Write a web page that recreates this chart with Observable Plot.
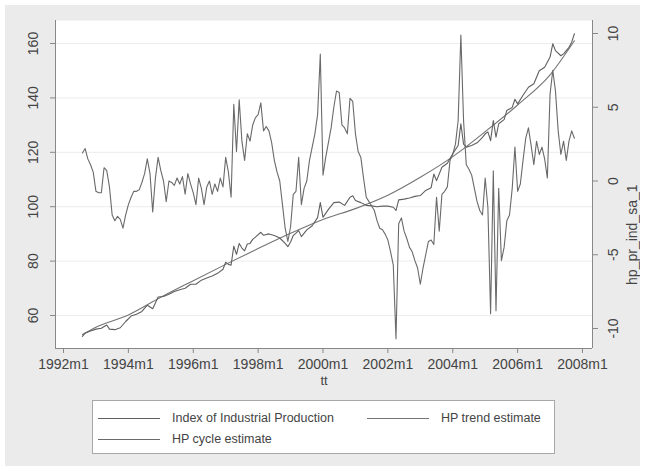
<!DOCTYPE html>
<html>
<head>
<meta charset="utf-8">
<script src="https://cdn.jsdelivr.net/npm/d3@7"></script>
<script src="https://cdn.jsdelivr.net/npm/@observablehq/plot@0.6"></script>
<style>
  body { margin: 0; background: #fff; font-family: "Liberation Sans", Arial, sans-serif; }
  #graph { position: absolute; left: 5px; top: 5px; width: 635px; height: 461px; background: #ebebeb; }
  #chart { position: absolute; left: 0; top: 0; }
  #legend { position: absolute; left: 87px; top: 395px; width: 461px; height: 52px;
            background: #fff; border: 1px solid #a8a8a8; font-size: 12.5px; color: #444; }
  .key { position: absolute; width: 62px; height: 0; border-top: 1px solid; }
  .lab { position: absolute; line-height: 14px; white-space: nowrap; }
</style>
</head>
<body>
<div id="graph">
  <div id="chart"></div>
  <div id="legend"></div>
</div>
<script>
// HP cycle (axe de droite), mensuel à partir de 1992m8
const cycleStart = "1992m8";
const cycleValues = [
  1.9, 2.2, 1.5, 1.1, 0.6,                                          // 1992
  -0.7, -0.8, -0.8, 0.9, 0.7, -0.4, -2.3, -2.7, -2.4, -2.6, -3.2, -2.3, // 1993
  -1.6, -1.1, -0.7, -0.7, -0.6, -0.1, 0.5, 1.5, 0.5, -2.1, 0.2, 1.6,  // 1994
  0.7, 0.0, -1.4, 0.0, -0.1, -0.3, 0.2, -0.2, 0.3, -0.9, 0.5, -0.2,   // 1995
  -0.8, -1.6, 0.2, -0.5, -1.6, -0.4, 0.0, -0.9, -0.2, -0.7, 0.2, -0.4, // 1996
  1.6, 0.6, -1.1, 5.2, 2.0, 5.5, 2.7, 1.4, 3.2, 2.7, 3.8, 4.3,        // 1997
  4.5, 5.3, 3.4, 3.7, 3.4, 2.6, 1.4, 0.6, 0.0, -1.6, -3.2, -4.1,      // 1998
  -3.1, -0.9, -0.7, 1.6, -1.6, -0.5, 0.0, 1.4, 2.3, 3.2, 4.5, 8.6,    // 1999
  0.4, 1.6, 2.6, 3.6, 5.0, 6.1, 6.0, 3.8, 3.6, 3.2, 5.6, 5.4,         // 2000
  3.2, 2.0, 1.6, 0.2, -1.1, -1.4, -1.7, -2.0, -2.7, -3.2, -3.3, -3.6, // 2001
  -4.0, -4.8, -5.7, -10.7, -2.9, -2.5, -3.4, -3.9, -4.5, -4.8, -5.4, -5.9, // 2002
  -7.0, -5.9, -5.0, -4.1, -4.0, -4.3, -1.1, -3.4, -0.9, -0.7, -0.4, 1.4,   // 2003
  1.8, 2.5, 4.1, 9.9, 4.1, 1.1, 0.8, 0.4, -0.5, -1.4, -2.0, -2.3,     // 2004
  0.2, -1.8, -9.0, 0.7, -8.8, -0.5, -5.4, -4.5, -2.7, -2.3, -0.5, 2.3, // 2005
  -0.7, -0.2, 1.4, 2.9, 3.6, 2.4, 1.1, 2.7, 1.8, 2.3, 1.5, 0.2,       // 2006
  5.9, 7.5, 6.1, 3.4, 1.8, 2.7, 1.4, 2.7, 3.4, 2.9                    // 2007
];

// Index of Industrial Production (axe de gauche)
const indexMonths = [
  "1992m8", "1992m9", "1992m11", "1993m1", "1993m3", "1993m5", "1993m6", "1993m8", "1993m10", "1993m12",
  "1994m2", "1994m4", "1994m6", "1994m8", "1994m10", "1994m12", "1995m2", "1995m4", "1995m6", "1995m8",
  "1995m10", "1995m12", "1996m2", "1996m4", "1996m6", "1996m8", "1996m10", "1996m12", "1997m1", "1997m2",
  "1997m3", "1997m4", "1997m5", "1997m6", "1997m7", "1997m8", "1997m9", "1997m10", "1997m11", "1997m12",
  "1998m2", "1998m3", "1998m5", "1998m7", "1998m9", "1998m11", "1998m12", "1999m1", "1999m2", "1999m4",
  "1999m5", "1999m7", "1999m9", "1999m11", "1999m12", "2000m1", "2000m3", "2000m5", "2000m7", "2000m9",
  "2000m11", "2000m12", "2001m1", "2001m3", "2001m5", "2001m7", "2001m9", "2001m11", "2002m1", "2002m3",
  "2002m4", "2002m5", "2002m7", "2002m9", "2002m11", "2003m1", "2003m3", "2003m5", "2003m6", "2003m7",
  "2003m9", "2003m11", "2004m1", "2004m3", "2004m4", "2004m5", "2004m6", "2004m8", "2004m10", "2004m12",
  "2005m1", "2005m2", "2005m3", "2005m4", "2005m5", "2005m6", "2005m8", "2005m9", "2005m11", "2005m12",
  "2006m1", "2006m3", "2006m5", "2006m7", "2006m9", "2006m11", "2007m1", "2007m2", "2007m3", "2007m5",
  "2007m6", "2007m8", "2007m9", "2007m10"
];
const indexValues = [
  52.3, 53.5, 54.3, 55.0, 55.3, 56.5, 55.0, 54.8, 55.5, 57.8,
  59.8, 60.5, 61.5, 63.8, 62.5, 66.8, 67.0, 67.8, 68.8, 69.5,
  70.0, 71.5, 71.5, 73.0, 73.8, 74.5, 75.5, 77.0, 79.6, 78.8,
  78.5, 85.5, 82.5, 86.5, 84.8, 83.8, 86.3, 86.5, 88.0, 88.8,
  90.6, 89.5, 90.0, 89.4, 88.5, 86.5, 85.3, 87.0, 89.4, 91.2,
  89.0, 91.5, 93.0, 96.0, 101.5, 96.1, 99.0, 101.5, 101.7, 100.5,
  103.5, 104.0, 102.3, 101.5, 100.5, 100.3, 100.0, 100.2, 100.2, 99.8,
  98.6, 102.5, 102.8, 103.2, 103.8, 104.1, 106.0, 107.0, 112.0, 109.6,
  114.5, 116.0, 119.5, 122.5, 130.5, 123.0, 121.9, 122.5, 123.5, 125.5,
  126.8, 127.5, 124.3, 131.7, 125.6, 130.5, 132.0, 135.4, 136.5, 139.5,
  137.8, 141.0, 143.9, 145.2, 150.0, 151.3, 155.0, 159.9, 157.4, 155.5,
  156.2, 158.6, 160.5, 163.6
];

// HP trend (axe de gauche)
const trendMonths = ["1992m8", "1993m1", "1994m1", "1995m1", "1996m1", "1997m1", "1998m1", "1999m1",
  "2000m1", "2001m1", "2002m1", "2003m1", "2004m1", "2005m1", "2006m1", "2007m1", "2007m10"];
const trendValues = [53.0, 55.7, 60.2, 66.7, 72.8, 78.8, 84.6, 90.2,
  95.3, 99.3, 104.2, 110.8, 118.4, 127.6, 137.4, 148.5, 161.0];

const leftTicks = [60, 80, 100, 120, 140, 160];
const rightTicks = [-10, -5, 0, 5, 10];
const xTickLabels = ["1992m1", "1994m1", "1996m1", "1998m1", "2000m1", "2002m1", "2004m1", "2006m1", "2008m1"];

const seriesNames = ["Index of Industrial Production", "HP trend estimate", "HP cycle estimate"];
const seriesColors = ["#606060", "#747474", "#6a6a6a"];

// "1992m8" -> mois depuis 1992m1
const parseMonth = s => {
  const [y, mo] = s.split("m").map(Number);
  return (y - 1992) * 12 + mo - 1;
};

const c0 = parseMonth(cycleStart);
const cycleRows = cycleValues.map((c, i) => ({m: c0 + i, c}));
const indexRows = indexMonths.map((s, i) => ({m: parseMonth(s), v: indexValues[i]}));
const trendRows = trendMonths.map((s, i) => ({m: parseMonth(s), v: trendValues[i]}));

const xDomain = [-2.96, 195.7];
const yDomain = [47.87, 168.46];
// axe de droite exprimé dans l'échelle de gauche
const rightToLeft = d3.scaleLinear().domain([-10, 10]).range([55.22, 163.68]);

const axisStyle = {stroke: "#888", fill: "#444", fontSize: 14, label: null, tickSize: 5};

const plot = Plot.plot({
  width: 635,
  height: 390,
  marginLeft: 50,
  marginRight: 48,
  marginTop: 15,
  marginBottom: 47,
  style: {background: "transparent", fontFamily: "'Liberation Sans', Arial, sans-serif"},
  x: {domain: xDomain},
  y: {domain: yDomain},
  marks: [
    Plot.frame({fill: "white", stroke: null}),
    Plot.ruleY(leftTicks, {stroke: "#ececec"}),
    Plot.line(trendRows, {x: "m", y: "v", stroke: seriesColors[1], strokeWidth: 1.1, curve: "monotone-x"}),
    Plot.line(indexRows, {x: "m", y: "v", stroke: seriesColors[0], strokeWidth: 1.1}),
    Plot.line(cycleRows, {x: "m", y: d => rightToLeft(d.c), stroke: seriesColors[2], strokeWidth: 1.1}),
    Plot.ruleX(xDomain, {stroke: "#888"}),
    Plot.ruleY([yDomain[0]], {stroke: "#888"}),
    Plot.axisY(leftTicks, {...axisStyle, anchor: "left", tickPadding: 17, tickRotate: -90, lineAnchor: "middle"}),
    Plot.axisY(rightTicks.map(rightToLeft), {
      ...axisStyle, anchor: "right", tickPadding: 16, tickRotate: -90, lineAnchor: "middle",
      tickFormat: v => String(Math.round(rightToLeft.invert(v)))
    }),
    Plot.axisX(xTickLabels.map(parseMonth), {
      ...axisStyle, anchor: "bottom", tickPadding: 6,
      tickFormat: m => xTickLabels[xTickLabels.map(parseMonth).indexOf(m)]
    }),
    Plot.text(["tt"], {text: d => d, frameAnchor: "bottom", dy: 36, fontSize: 13, fill: "#444"}),
    Plot.text(["hp_pr_ind_sa_1"], {text: d => d, frameAnchor: "right", dx: 40, rotate: -90, fontSize: 14, fill: "#444"})
  ]
});
document.getElementById("chart").appendChild(plot);

// légende Stata en bas
const legend = document.getElementById("legend");
const legendPos = [[5, 17], [274, 17], [5, 38]];
seriesNames.forEach((name, i) => {
  const [lx, ly] = legendPos[i];
  const key = document.createElement("div");
  key.className = "key";
  key.style.left = lx + "px";
  key.style.top = ly + "px";
  key.style.borderColor = seriesColors[i];
  legend.appendChild(key);
  const lab = document.createElement("div");
  lab.className = "lab";
  lab.style.left = (lx + 74) + "px";
  lab.style.top = (ly - 7) + "px";
  lab.textContent = name;
  legend.appendChild(lab);
});
</script>
</body>
</html>
